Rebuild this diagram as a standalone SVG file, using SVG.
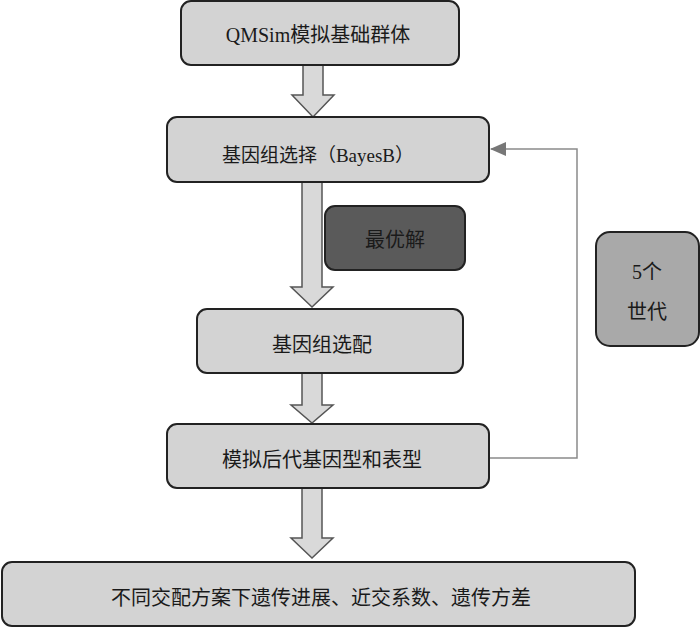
<svg xmlns="http://www.w3.org/2000/svg" width="700" height="627" viewBox="0 0 700 627">
<defs>
<style>
.box{fill:#d3d3d3;stroke:#222;stroke-width:2}
.dark{fill:#5a5a5a;stroke:#222;stroke-width:2}
.mid{fill:#a9a9a9;stroke:#222;stroke-width:2}
.arr{fill:#d9d9d9;stroke:#555;stroke-width:1.5;stroke-linejoin:miter}
.t{font-family:"Liberation Serif","Noto Sans CJK SC",serif;font-size:20px;fill:#1a1a1a;text-anchor:middle;dominant-baseline:central}
.fb{fill:none;stroke:#8a8a8a;stroke-width:1.5}
</style>
<marker id="ah" markerWidth="16" markerHeight="14" refX="15" refY="7" orient="auto" markerUnits="userSpaceOnUse">
<path d="M0,0 L16,7 L0,14 Z" fill="#777"/>
</marker>
</defs>
<rect width="700" height="627" fill="#fff"/>
<g id="connectors">
<path class="arr" d="M303,65 H323 V95 H334 L313,117 L292,95 H303 Z"/>
<path class="arr" d="M302,182 H322 V287 H333 L312,307 L291,287 H302 Z"/>
<path class="arr" d="M302,373 H322 V405 H333 L312,423 L291,405 H302 Z"/>
<path class="arr" d="M302,488 H322 V538 H333 L312,558 L291,538 H302 Z"/>
<path class="fb" d="M489,458 H577 V149 H491" marker-end="url(#ah)"/>
</g>
<g id="n1"><rect class="box" x="181" y="1" width="278" height="64" rx="10"/><text class="t" x="318" y="35">QMSim模拟基础群体</text></g>
<g id="n2"><rect class="box" x="167" y="117" width="322" height="65" rx="10"/><text class="t" x="318" y="155" style="font-size:19px">基因组选择（BayesB）</text></g>
<g id="n3"><rect class="dark" x="325" y="206" width="140" height="64" rx="10"/><text class="t" x="395" y="240">最优解</text></g>
<g id="n4"><rect class="box" x="197" y="309" width="266" height="64" rx="10"/><text class="t" x="322" y="345">基因组选配</text></g>
<g id="n5"><rect class="box" x="167" y="424" width="322" height="64" rx="10"/><text class="t" x="322" y="460">模拟后代基因型和表型</text></g>
<g id="n6"><rect class="mid" x="596" y="232" width="103" height="114" rx="14"/><text class="t" x="647" y="272">5个</text><text class="t" x="647" y="312">世代</text></g>
<g id="n7"><rect class="box" x="2" y="562" width="633" height="64" rx="10"/><text class="t" x="321" y="598">不同交配方案下遗传进展、近交系数、遗传方差</text></g>
</svg>
